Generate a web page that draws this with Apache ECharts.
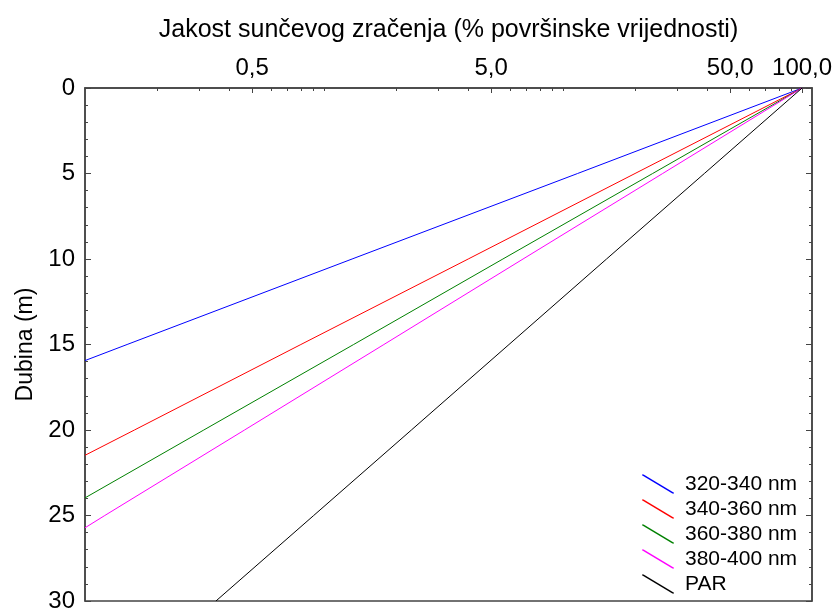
<!DOCTYPE html>
<html>
<head>
<meta charset="utf-8">
<script src="https://cdn.jsdelivr.net/npm/echarts@6/dist/echarts.min.js"></script>
<style>
    html, body { margin: 0; padding: 0; background: #fff; }
    #chart { width: 837px; height: 613px; }
</style>
</head>
<body>
<div id="chart"></div>
<script>
    // 图例名称
    let seriesNames = ['320-340 nm', '340-360 nm', '360-380 nm', '380-400 nm', 'PAR'];
    let colorList = ['#0000ff', '#ff0000', '#008000', '#ff00ff', '#000000'];

    // 深度 (m) 与 相对强度 (% 表面值)，读自原图
    let depth320 = [0, 5, 10, 15, 15.94];
    let val320 = [100, 11.5, 1.31, 0.15, 0.1];
    let depth340 = [0, 5, 10, 15, 20, 21.48];
    let val340 = [100, 20.0, 4.01, 0.80, 0.161, 0.1];
    let depth360 = [0, 5, 10, 15, 20, 23.97];
    let val360 = [100, 23.7, 5.6, 1.33, 0.314, 0.1];
    let depth380 = [0, 5, 10, 15, 20, 25, 25.72];
    let val380 = [100, 26.1, 6.8, 1.78, 0.465, 0.121, 0.1];
    let depthPar = [0, 5, 10, 15, 20, 25, 30];
    let valPar = [100, 39.0, 15.2, 5.94, 2.32, 0.905, 0.353];

    // 横轴刻度
    let xLabels = [0.5, 5, 50, 100];
    let xMinorTicks = [0.2, 0.3, 0.4, 0.6, 0.7, 0.8, 0.9, 1, 2, 3, 4, 6, 7, 8, 9, 10, 20, 30, 40, 60, 70, 80, 90];

    let depths = [depth320, depth340, depth360, depth380, depthPar];
    let vals = [val320, val340, val360, val380, valPar];

    let fontName = '"Liberation Sans", Arial, sans-serif';
    let axisColor = '#444';

    let series = seriesNames.map((name, i) => ({
        name: name,
        type: 'line',
        xAxisIndex: 0,
        yAxisIndex: 0,
        showSymbol: false,
        symbol: 'none',
        data: depths[i].map((d, j) => [vals[i][j], d]),
        lineStyle: { color: colorList[i], width: 1 },
        itemStyle: { color: colorList[i] },
        animation: false
    }));

    // y轴公共配置
    let yAxisBase = {
        type: 'value',
        inverse: true,
        min: 0,
        max: 30,
        interval: 5,
        axisLine: { show: true, lineStyle: { color: axisColor, width: 1.5 } },
        axisTick: { show: true, inside: true, length: 6, lineStyle: { color: axisColor } },
        minorTick: { show: true, splitNumber: 5, length: 3, lineStyle: { color: axisColor } },
        splitLine: { show: false }
    };

    let option = {
        animation: false,
        textStyle: { fontFamily: fontName },
        grid: {
            show: true,
            left: 85,
            right: 25,
            top: 88,
            bottom: 11,
            borderColor: axisColor,
            borderWidth: 1.5,
            containLabel: false
        },
        legend: {
            orient: 'vertical',
            left: 642,
            top: 472,
            padding: 0,
            itemWidth: 32,
            itemHeight: 19,
            itemGap: 1,
            // 斜线图标
            icon: 'path://M0,0L1.6,0L32,18.3L32,19L30.4,19L0,0.7Z',
            itemStyle: { borderWidth: 0 },
            textStyle: { fontSize: 21, lineHeight: 24, color: '#000', fontFamily: fontName, padding: [0, 0, 0, 6] },
            data: seriesNames
        },
        xAxis: [{
            type: 'log',
            logBase: 10,
            position: 'top',
            min: 0.1,
            max: 110,
            name: 'Jakost sunčevog zračenja (% površinske vrijednosti)',
            nameLocation: 'middle',
            nameGap: 45,
            nameTextStyle: { fontSize: 25, color: '#000', fontFamily: fontName },
            axisLine: { show: true, lineStyle: { color: axisColor, width: 1.5 } },
            axisTick: { show: true, inside: true, length: 5, customValues: xLabels, lineStyle: { color: axisColor } },
            axisLabel: {
                customValues: xLabels,
                fontSize: 24,
                color: '#000',
                margin: 8,
                formatter: function (v) { return Number(v).toFixed(1).replace('.', ','); }
            },
            splitLine: { show: false }
        }, {
            // 次刻度
            type: 'log',
            logBase: 10,
            position: 'top',
            min: 0.1,
            max: 110,
            axisLine: { show: false },
            axisTick: { show: true, inside: true, length: 3, customValues: xMinorTicks, lineStyle: { color: axisColor } },
            axisLabel: { show: false },
            splitLine: { show: false }
        }],
        yAxis: [Object.assign({}, yAxisBase, {
            position: 'left',
            name: 'Dubina (m)',
            nameLocation: 'middle',
            nameGap: 48,
            nameTextStyle: { fontSize: 23, color: '#000', fontFamily: fontName },
            axisLabel: { fontSize: 24, color: '#000', margin: 10 }
        }), Object.assign({}, yAxisBase, {
            position: 'right',
            axisLabel: { show: false }
        })],
        series: series
    };

    let myChart = echarts.init(document.getElementById('chart'), null, { renderer: 'canvas' });
    myChart.setOption(option);
</script>
</body>
</html>
